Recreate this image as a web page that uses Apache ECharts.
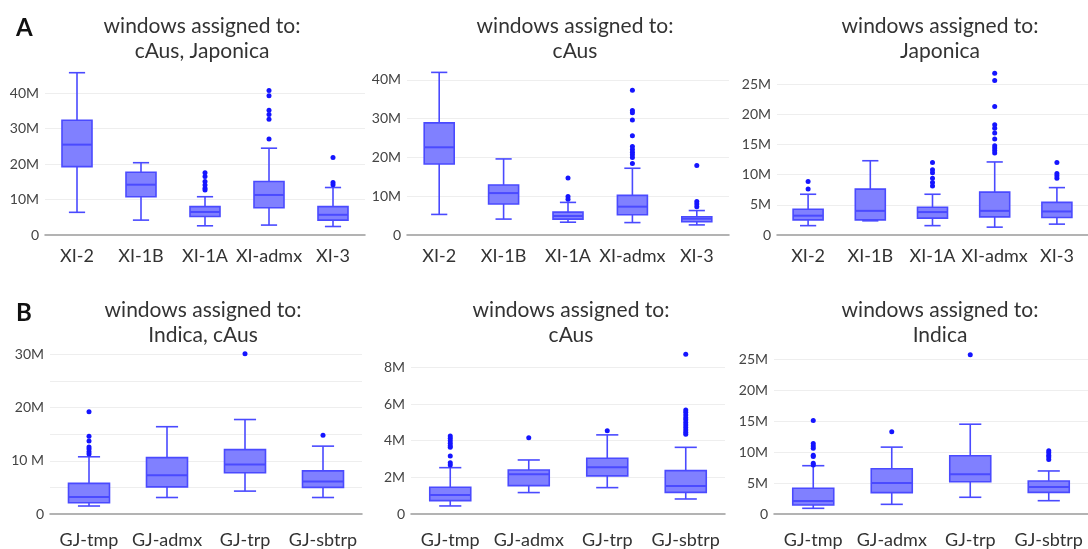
<!DOCTYPE html>
<html>
<head>
<meta charset="utf-8">
<script src="https://cdn.jsdelivr.net/npm/echarts@6/dist/echarts.min.js"></script>
<style>
html,body{margin:0;padding:0;background:#fff;}
#chart{width:1088px;height:549px;}
</style>
</head>
<body>
<div id="chart"></div>
<script>
// ---- data (values in millions) ----
const catsA = ['XI-2', 'XI-1B', 'XI-1A', 'XI-admx', 'XI-3'];
const catsB = ['GJ-tmp', 'GJ-admx', 'GJ-trp', 'GJ-sbtrp'];

// each box: [low whisker, Q1, median, Q3, high whisker]
const boxA1 = [[6.4, 19.3, 25.5, 32.4, 45.8], [4.2, 10.8, 14.2, 17.7, 20.4], [2.6, 5.2, 6.5, 8.0, 10.8], [2.8, 7.7, 11.3, 15.1, 24.5], [2.4, 4.2, 5.7, 8.0, 13.4]];
const outA1 = [[], [], [17.6, 16.5, 15.1, 14.1, 13.2, 12.7], [40.8, 39.3, 35.2, 34.0, 32.7, 27.1], [21.9, 14.8, 14.2]];

const boxA2 = [[5.3, 18.3, 22.6, 28.9, 41.9], [4.1, 8.0, 10.8, 12.9, 19.6], [3.3, 4.1, 4.9, 5.9, 8.4], [3.2, 5.2, 7.3, 10.2, 17.2], [2.6, 3.4, 4.2, 4.7, 6.3]];
const outA2 = [[], [], [14.7, 9.9, 9.2], [37.3, 32.1, 31.5, 29.6, 25.6, 22.8, 22.0, 21.3, 20.7, 20.0, 18.4], [17.9, 8.6, 8.0, 7.3]];

const boxA3 = [[1.55, 2.5, 3.2, 4.26, 6.75], [2.35, 2.5, 4.0, 7.6, 12.3], [1.55, 2.8, 3.8, 4.6, 6.75], [1.3, 3.0, 4.0, 7.1, 12.1], [1.8, 2.9, 3.9, 5.4, 7.85]];
const outA3 = [[8.85, 7.6], [], [12.0, 10.8, 10.3, 9.4, 8.7, 8.1], [26.8, 25.6, 21.3, 18.25, 17.7, 16.9, 15.9, 14.8, 14.4, 14.0, 13.6], [12.0, 10.2, 9.8, 9.4]];

const boxB1 = [[1.5, 2.1, 3.2, 5.75, 10.75], [3.1, 5.1, 7.3, 10.6, 16.4], [4.3, 7.75, 9.3, 12.1, 17.75], [3.1, 5.0, 6.1, 8.1, 12.75]];
const outB1 = [[19.2, 14.6, 13.7, 12.6, 12.2, 11.7, 11.25], [], [30.1], [14.8]];

const boxB2 = [[0.44, 0.73, 1.04, 1.46, 2.53], [1.17, 1.55, 2.17, 2.4, 2.95], [1.44, 2.08, 2.55, 3.04, 4.32], [0.82, 1.18, 1.53, 2.37, 3.64]];
const outB2 = [[4.26, 4.13, 4.0, 3.86, 3.73, 3.64, 3.17, 2.8, 2.68], [4.17], [4.55], [8.72, 5.68, 5.56, 5.41, 5.26, 5.14, 4.99, 4.86, 4.72, 4.59, 4.46, 4.35]];

const boxB3 = [[0.92, 1.45, 2.1, 4.15, 7.8], [1.56, 3.45, 5.0, 7.3, 10.8], [2.7, 5.2, 6.4, 9.4, 14.5], [2.15, 3.5, 4.36, 5.33, 6.95]];
const outB3 = [[15.1, 11.4, 11.0, 10.6, 9.5, 9.3, 8.2, 7.9], [13.3], [25.7], [10.2, 9.9, 9.5, 9.2, 8.8]];

const titlesA = ['windows assigned to:\ncAus, Japonica', 'windows assigned to:\ncAus', 'windows assigned to:\nJaponica'];
const titlesB = ['windows assigned to:\nIndica, cAus', 'windows assigned to:\ncAus', 'windows assigned to:\nIndica'];

// y tick labels per panel
const ticksA1 = ['0', '10M', '20M', '30M', '40M'];
const ticksA2 = ['0', '10M', '20M', '30M', '40M'];
const ticksA3 = ['0', '5M', '10M', '15M', '20M', '25M'];
const ticksB1 = ['0', '', '10 M', '', '20M', '', '30M'];
const ticksB2 = ['0', '2M', '4M', '6M', '8M'];
const ticksB3 = ['0', '5M', '10M', '15M', '20M', '25M'];

// ---- layout ----
const panels = [
  {cats: catsA, box: boxA1, out: outA1, ticks: ticksA1, title: titlesA[0], tx: 197, ty: 9, grid: {left: 45, right: 723, top: 72, bottom: 314}, max: 46, step: 10, bw: 30, lm: 12},
  {cats: catsA, box: boxA2, out: outA2, ticks: ticksA2, title: titlesA[1], tx: 570, ty: 9, grid: {left: 407, right: 359, top: 72, bottom: 314}, max: 42, step: 10, bw: 30, lm: 12},
  {cats: catsA, box: boxA3, out: outA3, ticks: ticksA3, title: titlesA[2], tx: 935, ty: 9, grid: {left: 777, right: 0, top: 72, bottom: 314}, max: 27, step: 5, bw: 30, lm: 12},
  {cats: catsB, box: boxB1, out: outB1, ticks: ticksB1, title: titlesB[0], tx: 198, ty: 293, grid: {left: 50, right: 726, top: 349, bottom: 35}, max: 31, step: 5, bw: 41, lm: 17},
  {cats: catsB, box: boxB2, out: outB2, ticks: ticksB2, title: titlesB[1], tx: 566, ty: 293, grid: {left: 411, right: 363, top: 351, bottom: 35}, max: 8.9, step: 2, bw: 41, lm: 17},
  {cats: catsB, box: boxB3, out: outB3, ticks: ticksB3, title: titlesB[2], tx: 935, ty: 293, grid: {left: 774, right: 0, top: 353, bottom: 35}, max: 26, step: 5, bw: 41, lm: 17}
];

const FONT = 'Lato';
const BOX_FILL = '#8080ff';
const BOX_LINE = '#4a4aff';
const DOT = '#1515ff';

const option = {
  animation: false,
  backgroundColor: '#fff',
  title: [],
  grid: [],
  xAxis: [],
  yAxis: [],
  series: []
};

option.title.push({text: 'A', left: 11, top: 11, textStyle: {fontFamily: FONT, fontSize: 24, fontWeight: 'bold', color: '#111'}});
option.title.push({text: 'B', left: 11, top: 296, textStyle: {fontFamily: FONT, fontSize: 24, fontWeight: 'bold', color: '#111'}});

panels.forEach((p, i) => {
  option.title.push({
    text: p.title, left: p.tx, top: p.ty, textAlign: 'center',
    textStyle: {fontFamily: FONT, fontSize: 21, fontWeight: 'normal', color: '#333', lineHeight: 25}
  });
  option.grid.push(Object.assign({containLabel: false}, p.grid));
  option.xAxis.push({
    type: 'category', gridIndex: i, data: p.cats,
    axisLine: {lineStyle: {color: '#9a9a9a', width: 1.5}},
    axisTick: {show: false},
    axisLabel: {fontFamily: FONT, fontSize: 18, color: '#333', margin: p.lm, interval: 0}
  });
  option.yAxis.push({
    type: 'value', gridIndex: i, min: 0, max: p.max, interval: p.step,
    axisLine: {show: false}, axisTick: {show: false},
    splitLine: {show: true, showMaxLine: false, showMinLine: false, lineStyle: {color: '#eeeeee', width: 1}},
    axisLabel: {
      showMaxLabel: false, fontFamily: FONT, fontSize: 14, color: '#444', margin: 6,
      formatter: (v) => {
        const k = Math.round(v / p.step);
        return (Math.abs(k * p.step - v) < 1e-9 && p.ticks[k] !== undefined) ? p.ticks[k] : '';
      }
    }
  });
  const bw = p.bw;
  option.series.push({
    type: 'custom', xAxisIndex: i, yAxisIndex: i,
    data: p.box.map((b, j) => [j].concat(b)),
    encode: {x: 0, y: [1, 2, 3, 4, 5]},
    renderItem: (params, api) => {
      const c = api.value(0);
      const x = api.coord([c, 0])[0];
      const yl = api.coord([c, api.value(1)])[1];
      const y1 = api.coord([c, api.value(2)])[1];
      const ym = api.coord([c, api.value(3)])[1];
      const y3 = api.coord([c, api.value(4)])[1];
      const yh = api.coord([c, api.value(5)])[1];
      const half = bw / 2, cap = bw * 0.27;
      const ls = {stroke: BOX_LINE, lineWidth: 1.6, fill: null};
      return {
        type: 'group',
        children: [
          {type: 'line', shape: {x1: x, y1: y3, x2: x, y2: yh}, style: ls},
          {type: 'line', shape: {x1: x - cap, y1: yh, x2: x + cap, y2: yh}, style: ls},
          {type: 'line', shape: {x1: x, y1: y1, x2: x, y2: yl}, style: ls},
          {type: 'line', shape: {x1: x - cap, y1: yl, x2: x + cap, y2: yl}, style: ls},
          {type: 'rect', shape: {x: x - half, y: y3, width: bw, height: y1 - y3}, style: {fill: BOX_FILL, stroke: BOX_LINE, lineWidth: 1.6}},
          {type: 'line', shape: {x1: x - half, y1: ym, x2: x + half, y2: ym}, style: {stroke: BOX_LINE, lineWidth: 2}}
        ]
      };
    }
  });
  const pts = [];
  p.out.forEach((arr, j) => arr.forEach(v => pts.push([j, v])));
  option.series.push({
    type: 'scatter', xAxisIndex: i, yAxisIndex: i, data: pts,
    symbolSize: 5, itemStyle: {color: DOT, opacity: 1}, z: 3
  });
});

const chart = echarts.init(document.getElementById('chart'), null, {renderer: 'canvas'});
chart.setOption(option);
</script>
</body>
</html>
